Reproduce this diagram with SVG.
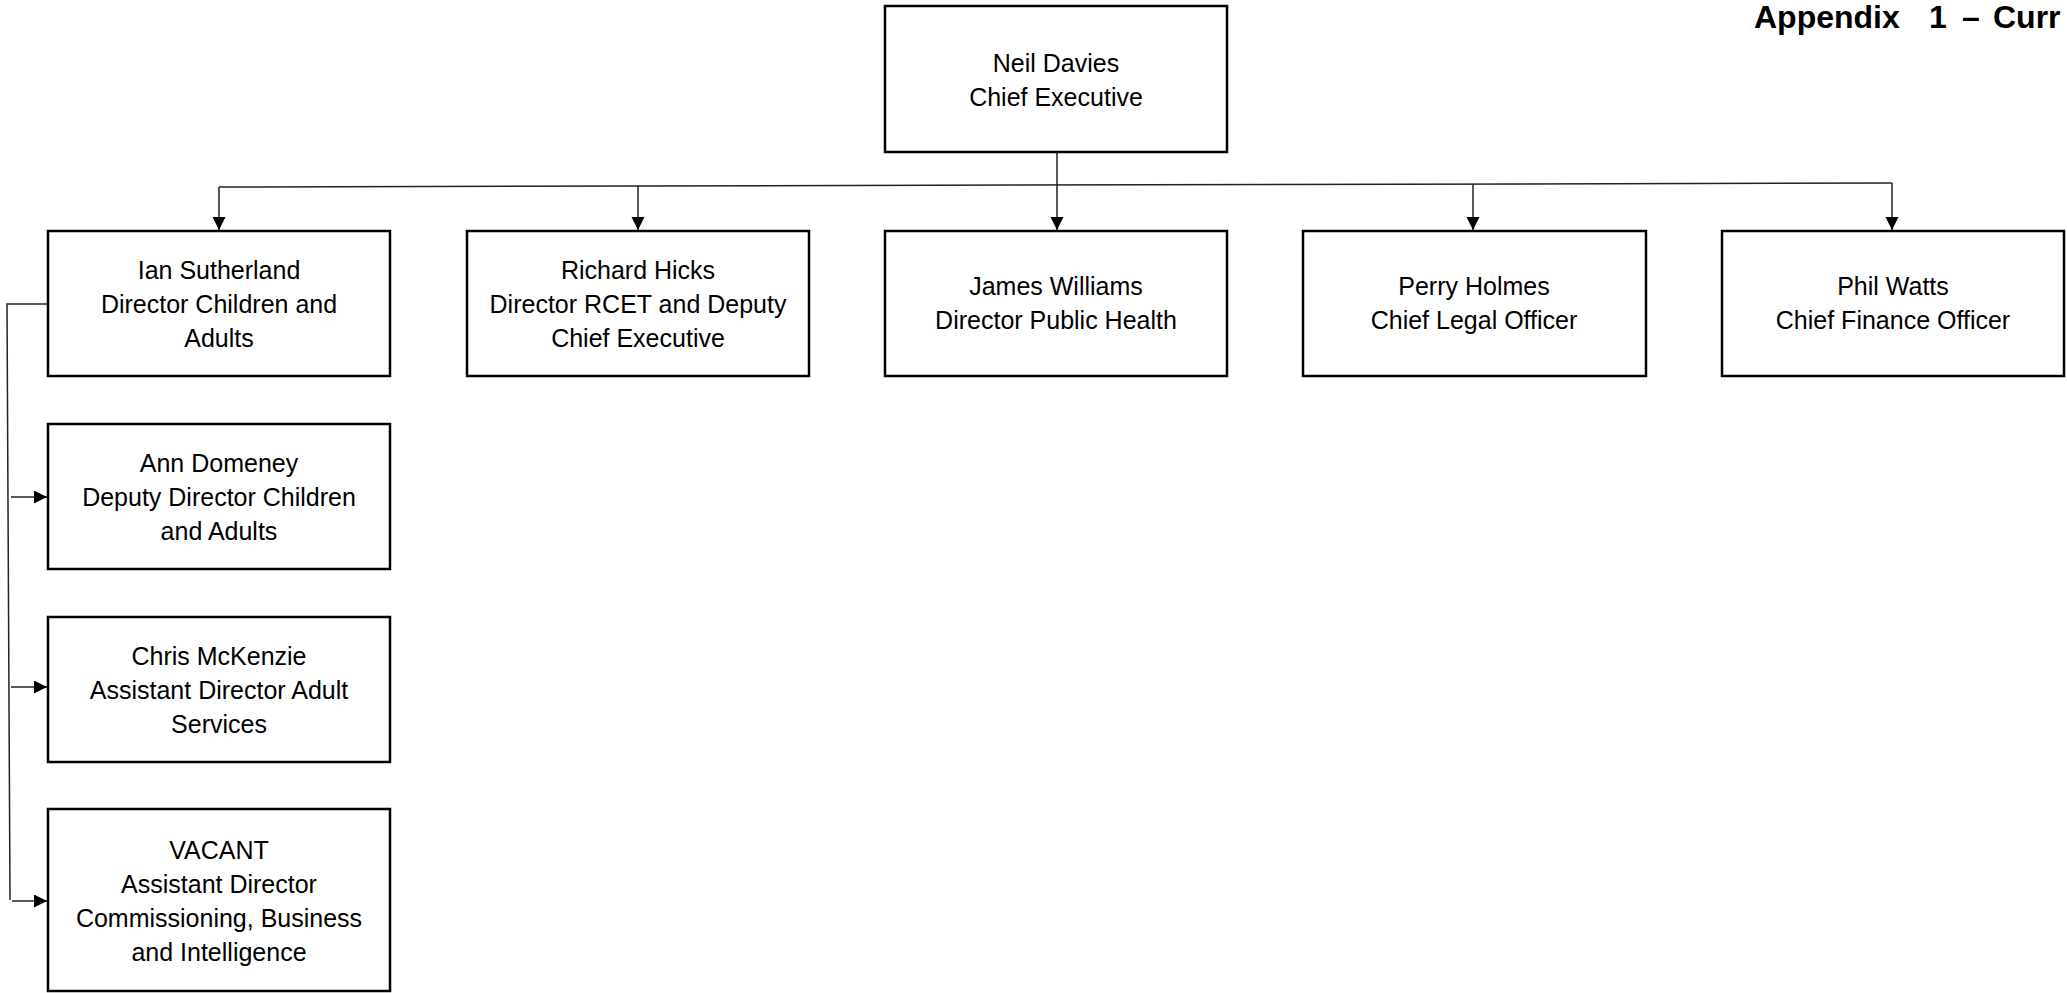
<svg xmlns="http://www.w3.org/2000/svg" width="2067" height="993" viewBox="0 0 2067 993">
<style>
.box{fill:#fff;stroke:#000;stroke-width:2.5}
.t{font-family:"Liberation Sans",Arial,sans-serif;font-size:25px;fill:#000;text-anchor:middle}
.c{fill:none;stroke:#222;stroke-width:1.5}
.title{font-family:"Liberation Sans",Arial,sans-serif;font-size:32px;font-weight:bold;fill:#000}
</style>
<defs>
<marker id="ah" markerUnits="userSpaceOnUse" markerWidth="14" markerHeight="14" refX="13" refY="6.5" orient="auto">
<path d="M0,0 L13,6.5 L0,13 z" fill="#000"/>
</marker>
</defs>
<rect width="2067" height="993" fill="#fff"/>
<text class="title" y="28"><tspan x="1754">Appendix</tspan><tspan x="1929">1</tspan><tspan x="1962">–</tspan><tspan x="1993">Curr</tspan></text>
<g id="connectors">
<path class="c" d="M1057,152 V185"/>
<path class="c" d="M219,187 L1892,183"/>
<path class="c" d="M219,187 V230" marker-end="url(#ah)"/>
<path class="c" d="M638,186 V230" marker-end="url(#ah)"/>
<path class="c" d="M1057,185 V230" marker-end="url(#ah)"/>
<path class="c" d="M1473,184 V230" marker-end="url(#ah)"/>
<path class="c" d="M1892,183 V230" marker-end="url(#ah)"/>
<path class="c" d="M48,304 H7 L10,900"/>
<path class="c" d="M11,497 H47" marker-end="url(#ah)"/>
<path class="c" d="M11,687 H47" marker-end="url(#ah)"/>
<path class="c" d="M12,901 H47" marker-end="url(#ah)"/>
</g>
<g id="neil">
<rect class="box" x="885" y="6" width="342" height="146"/>
<text class="t" x="1056" y="72">Neil Davies</text>
<text class="t" x="1056" y="106">Chief Executive</text>
</g>
<g id="ian">
<rect class="box" x="48" y="231" width="342" height="145"/>
<text class="t" x="219" y="279">Ian Sutherland</text>
<text class="t" x="219" y="313">Director Children and</text>
<text class="t" x="219" y="347">Adults</text>
</g>
<g id="richard">
<rect class="box" x="467" y="231" width="342" height="145"/>
<text class="t" x="638" y="279">Richard Hicks</text>
<text class="t" x="638" y="313">Director RCET and Deputy</text>
<text class="t" x="638" y="347">Chief Executive</text>
</g>
<g id="james">
<rect class="box" x="885" y="231" width="342" height="145"/>
<text class="t" x="1056" y="295">James Williams</text>
<text class="t" x="1056" y="329">Director Public Health</text>
</g>
<g id="perry">
<rect class="box" x="1303" y="231" width="343" height="145"/>
<text class="t" x="1474" y="295">Perry Holmes</text>
<text class="t" x="1474" y="329">Chief Legal Officer</text>
</g>
<g id="phil">
<rect class="box" x="1722" y="231" width="342" height="145"/>
<text class="t" x="1893" y="295">Phil Watts</text>
<text class="t" x="1893" y="329">Chief Finance Officer</text>
</g>
<g id="ann">
<rect class="box" x="48" y="424" width="342" height="145"/>
<text class="t" x="219" y="472">Ann Domeney</text>
<text class="t" x="219" y="506">Deputy Director Children</text>
<text class="t" x="219" y="540">and Adults</text>
</g>
<g id="chris">
<rect class="box" x="48" y="617" width="342" height="145"/>
<text class="t" x="219" y="665">Chris McKenzie</text>
<text class="t" x="219" y="699">Assistant Director Adult</text>
<text class="t" x="219" y="733">Services</text>
</g>
<g id="vacant">
<rect class="box" x="48" y="809" width="342" height="182"/>
<text class="t" x="219" y="859">VACANT</text>
<text class="t" x="219" y="893">Assistant Director</text>
<text class="t" x="219" y="927">Commissioning, Business</text>
<text class="t" x="219" y="961">and Intelligence</text>
</g>
</svg>
